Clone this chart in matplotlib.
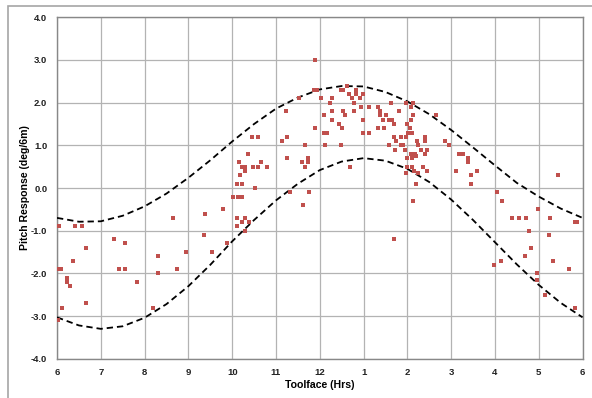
import matplotlib.pyplot as plt
from matplotlib.patches import Rectangle

# toolface in clock hours, 6 o'clock -> 12 -> 6 o'clock again (13 = 1, 14 = 2 ...)
toolface = [6.05, 6.40, 6.56, 7.29, 7.55, 6.66, 6.36, 6.02, 6.08, 7.42, 7.55, 6.22, 6.22, 6.23, 6.29, 7.83,
            6.12, 6.66, 8.19, 6.02, 8.66, 8.30, 8.95, 8.75, 8.30, 9.39, 9.79, 9.36, 9.89, 9.55,
            10.03, 10.14, 10.22, 10.12, 10.29, 10.22, 10.39, 10.12, 10.29,
            10.46, 10.59, 10.35, 10.16, 10.22, 10.29, 10.29, 10.17, 10.11, 10.22, 10.53, 10.48, 10.59, 10.65, 10.80,
            11.13, 11.22, 11.26, 11.26, 11.33, 11.53, 11.62, 11.75, 11.59, 11.66, 11.74, 11.74, 11.66,
            11.88, 11.88, 11.87, 11.94, 12.02, 12.10, 12.10, 12.16, 12.13, 12.23, 12.29, 12.29, 12.29,
            12.43, 12.50, 12.48, 12.54, 12.54, 12.49, 12.58, 12.63, 12.67, 12.73, 12.82, 12.82, 12.79, 12.79,
            12.69, 12.92, 12.99, 12.95, 13.12, 12.99, 12.99, 13.12,
            13.34, 13.38, 13.38, 13.45, 13.34, 13.47, 13.62, 13.82, 13.96, 14.13, 14.08, 14.13, 14.08,
            13.51, 13.57, 13.64, 13.69, 13.99, 14.05, 14.10, 14.02, 13.69, 13.86, 13.98, 14.40, 14.40,
            14.21, 14.25, 13.73, 13.85, 13.91, 13.59, 13.71, 13.94, 14.08, 14.17, 14.32, 14.44, 14.40,
            13.99, 14.10, 14.20, 13.99, 14.10, 14.35, 14.45, 14.15, 14.25, 13.98, 14.20, 14.12, 13.69,
            14.65, 14.85, 14.96, 15.18, 15.27, 15.39, 15.39, 15.12, 15.59, 15.45, 15.45,
            16.05, 16.15, 16.38, 16.55, 16.72, 16.99, 17.26, 17.83, 17.88, 16.78, 17.23, 16.82, 16.68,
            16.14, 15.98, 17.33, 17.68, 16.95, 16.95, 17.15, 17.82, 17.45]
pitch = [-0.9, -0.9, -0.9, -1.2, -1.3, -1.4, -1.7, -1.9, -1.9, -1.9, -1.9, -2.1, -2.15, -2.2, -2.3, -2.2,
         -2.8, -2.7, -2.8, -3.1, -0.7, -1.6, -1.5, -1.9, -2.0, -0.6, -0.5, -1.1, -1.3, -1.5,
         -0.2, -0.2, -0.2, -0.7, -0.7, -0.8, -0.8, -0.9, -1.0,
         1.2, 1.2, 0.8, 0.6, 0.5, 0.5, 0.4, 0.3, 0.1, 0.1, 0.0, 0.5, 0.5, 0.6, 0.5,
         1.1, 1.8, 1.2, 0.7, -0.1, 2.1, -0.4, -0.1, 0.6, 0.5, 0.7, 0.6, 1.0,
         1.4, 3.0, 2.3, 2.3, 2.1, 1.7, 1.3, 1.3, 1.0, 2.0, 2.1, 1.8, 1.6,
         1.5, 1.4, 2.3, 2.3, 1.8, 1.0, 1.7, 2.4, 2.2, 2.1, 2.3, 2.2, 2.0, 1.8,
         0.5, 2.1, 2.2, 1.9, 1.9, 1.6, 1.3, 1.3,
         1.9, 1.8, 1.7, 1.6, 1.4, 1.4, 2.0, 1.8, 2.0, 2.0, 1.9, 1.7, 1.6,
         1.7, 1.6, 1.6, 1.5, 1.5, 1.4, 1.3, 1.3, 1.2, 1.2, 1.2, 1.2, 1.1,
         1.1, 1.0, 1.1, 1.0, 1.0, 1.0, 0.9, 0.9, 0.8, 0.8, 0.9, 0.9, 0.8,
         0.7, 0.7, 0.75, 0.5, 0.5, 0.5, 0.4, 0.4, 0.35, 0.35, 0.1, -0.3, -1.2,
         1.7, 1.1, 1.0, 0.8, 0.8, 0.7, 0.6, 0.4, 0.4, 0.3, 0.1,
         -0.1, -0.3, -0.7, -0.7, -0.7, -0.5, -0.7, -0.8, -0.8, -1.0, -1.1, -1.4, -1.6,
         -1.7, -1.8, -1.7, -1.9, -2.0, -2.15, -2.5, -2.8, 0.3]

# dashed envelope, read every half hour
env_hours = [6 + 0.5 * i for i in range(25)]
env_upper = [-0.70, -0.79, -0.78, -0.65, -0.43, -0.13, 0.24, 0.65, 1.09, 1.50, 1.86, 2.12, 2.31,
             2.39, 2.38, 2.25, 2.03, 1.73, 1.36, 0.95, 0.53, 0.12, -0.20, -0.48, -0.70]
env_lower = [-3.03, -3.22, -3.30, -3.24, -3.04, -2.72, -2.30, -1.80, -1.25, -0.75, -0.29, 0.10, 0.42,
             0.62, 0.70, 0.64, 0.45, 0.14, -0.27, -0.75, -1.27, -1.79, -2.27, -2.69, -3.03]

tick_hours = list(range(6, 19))
tick_labels = ['6', '7', '8', '9', '10', '11', '12', '1', '2', '3', '4', '5', '6']
y_ticks = [-4, -3, -2, -1, 0, 1, 2, 3, 4]

plt.rcParams['font.family'] = ['Liberation Sans', 'DejaVu Sans']

figure = plt.figure(dpi=100, figsize=(5.92, 3.98))
ax = figure.add_axes([0.0963, 0.0987, 0.8877, 0.8578])

# grey chart-area border, like the excel chart frame
figure.patches.append(Rectangle((7.5 / 592, -0.1), 1.2, 1.1 - 6.5 / 398, transform=figure.transFigure,
                                fill=False, edgecolor='#a6a6a6', linewidth=1.2))

ax.plot(env_hours, env_upper, color='black', linewidth=1.3, linestyle=(0, (3.5, 2.2)), zorder=3)
ax.plot(env_hours, env_lower, color='black', linewidth=1.3, linestyle=(0, (3.5, 2.2)), zorder=3)
ax.plot(toolface, pitch, linestyle='none', marker='s', markersize=3.5, color='#c0504d',
        markeredgewidth=0, zorder=4)

ax.set_xlim(6, 18)
ax.set_ylim(-4, 4)
ax.set_xticks(tick_hours)
ax.set_xticklabels(tick_labels)
ax.set_yticks(y_ticks)
ax.set_yticklabels(['%.1f' % v for v in y_ticks])
ax.grid(True, color='#b3b3b3', linewidth=0.9, zorder=0)
ax.set_axisbelow(True)
for spine in ax.spines.values():
    spine.set_color('#888888')
    spine.set_linewidth(1.0)
ax.tick_params(axis='both', which='major', length=0, labelsize=6.8, colors='#222222')
ax.tick_params(axis='y', pad=7)
ax.tick_params(axis='x', pad=7)
for lab in ax.get_xticklabels() + ax.get_yticklabels():
    lab.set_fontweight('bold')

ax.set_xlabel('Toolface (Hrs)', fontsize=7.6, fontweight='bold', labelpad=1.5)
ax.set_ylabel('Pitch Response (deg/6m)', fontsize=7.6, fontweight='bold', labelpad=1)

plt.savefig('out.png', dpi=100)
